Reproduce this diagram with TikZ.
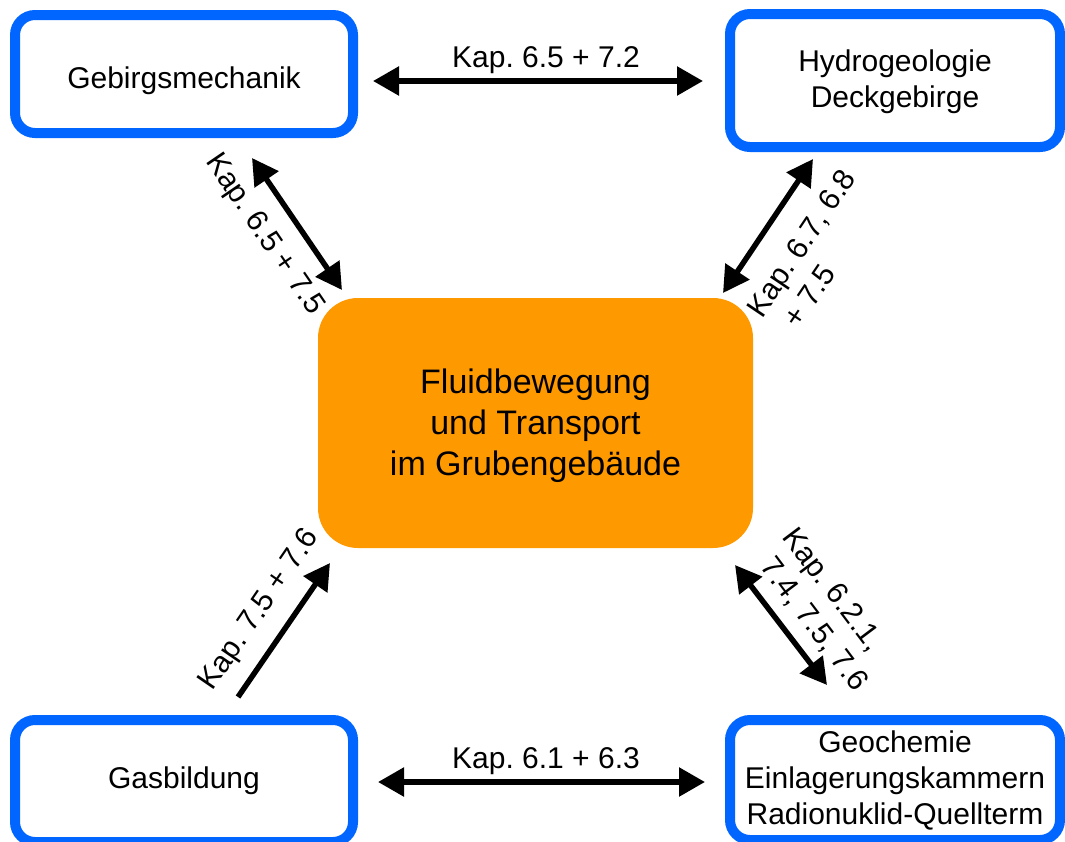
\documentclass[tikz,border=0pt]{standalone}
\usepackage{fontspec}
\setmainfont{Liberation Sans}
\usetikzlibrary{arrows.meta}
\definecolor{boxblue}{HTML}{0066FF}
\definecolor{fluidorange}{HTML}{FF9900}
\frenchspacing
\begin{document}
\begin{tikzpicture}[x=1pt,y=-1pt,
  box/.style={draw=boxblue, line width=10pt, rounded corners=20pt, fill=white,
    align=center, font=\fontsize{30}{36}\selectfont, inner sep=0pt},
  core/.style={fill=fluidorange, rounded corners=40pt, align=center,
    font=\fontsize{34}{41}\selectfont, minimum width=435pt, minimum height=250pt},
  link/.style={line width=5.5pt, {Triangle[length=26pt,width=28pt]}-{Triangle[length=26pt,width=28pt]}},
  oneway/.style={line width=5.5pt, -{Triangle[length=26pt,width=28pt]}},
  kap/.style={font=\fontsize{30}{36}\selectfont, inner sep=0pt, align=left}]

\useasboundingbox (0,0) rectangle (1065,841);

% boxes
\node[box, minimum width=338pt, minimum height=118pt] (geb) at (184,74)
  {\raisebox{-7pt}[\height][\depth]{Gebirgsmechanik}};
\node[box, minimum width=330pt, minimum height=133pt] (hyd) at (895,80.5)
  {\raisebox{-2pt}[\height][\depth]{\begin{tabular}{@{}c@{}}Hydrogeologie\\Deckgebirge\end{tabular}}};
\node[box, minimum width=338pt, minimum height=122pt] (gas) at (184,781)
  {Gasbildung};
\node[box, minimum width=330pt, minimum height=120pt] (geo) at (895,780)
  {Geochemie\\Einlagerungskammern\\Radionuklid-Quellterm};
\node[core] (fluid) at (535.5,423)
  {\raisebox{-3pt}[\height][\depth]{\begin{tabular}{@{}c@{}}Fluidbewegung\\und Transport\\im Grubengebäude\end{tabular}}};

% arrow end points
\coordinate (gebR) at (373,81);
\coordinate (hydL) at (703,81);
\coordinate (gasR) at (378,782);
\coordinate (geoL) at (705,782);
\coordinate (gebD) at (252,158);
\coordinate (fluidUL) at (342,290);
\coordinate (hydD) at (813,159);
\coordinate (fluidUR) at (723,293);
\coordinate (gasU) at (238,697);
\coordinate (fluidLL) at (330,563);
\coordinate (fluidLR) at (735,565);
\coordinate (geoU) at (827,685);

% connectors
\draw[link] (gebR) -- (hydL);
\draw[link] (gasR) -- (geoL);
\draw[link] (gebD) -- (fluidUL);
\draw[link] (hydD) -- (fluidUR);
\draw[oneway] (gasU) -- (fluidLL);
\draw[link] (fluidLR) -- (geoU);

% labels
\node[kap, anchor=base] (k1) at (546,67) {Kap. 6.5 + 7.2};
\node[kap, anchor=base] (k2) at (546,768) {Kap. 6.1 + 6.3};
\node[kap, rotate=-55.7] (k3) at (264,235) {Kap. 6.5 + 7.5};
\node[kap, rotate=56] (k4) at (816,253) {Kap. 6.7, 6.8\\\hspace*{12pt}+ 7.5};
\node[kap, rotate=55.5] (k5) at (260,610) {Kap. 7.5 + 7.6};
\node[kap, rotate=-53] (k6) at (825,610) {Kap. 6.2.1,\\\hspace*{10pt}7.4, 7.5, 7.6};
\end{tikzpicture}
\end{document}
